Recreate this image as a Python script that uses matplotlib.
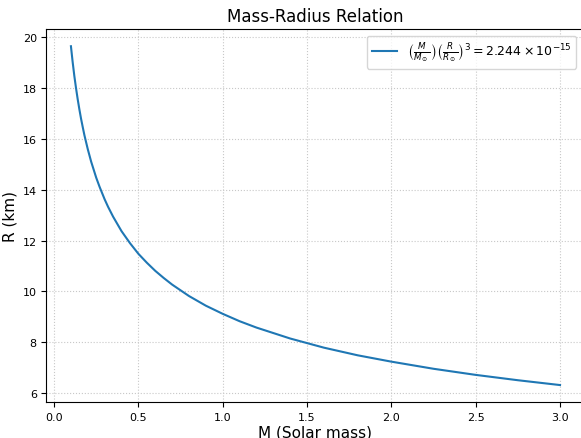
import matplotlib.pyplot as plt

# Masa (masas solares) y radio (km)
masa = [0.10, 0.11, 0.12, 0.13, 0.14, 0.15, 0.16, 0.17, 0.18, 0.20, 0.22,
        0.25, 0.27, 0.30, 0.32, 0.35, 0.40, 0.45, 0.50, 0.55, 0.60, 0.65,
        0.70, 0.80, 0.90, 1.00, 1.10, 1.20, 1.40, 1.60, 1.80, 2.00, 2.25,
        2.50, 2.75, 3.00]
radio = [19.64, 19.03, 18.48, 18.00, 17.56, 17.16, 16.79, 16.46, 16.14, 15.59, 15.10,
         14.47, 14.11, 13.62, 13.33, 12.94, 12.37, 11.90, 11.48, 11.13, 10.81, 10.53,
         10.27, 9.82, 9.44, 9.12, 8.83, 8.58, 8.15, 7.79, 7.49, 7.24, 6.96,
         6.72, 6.51, 6.32]

etiqueta = r'$\left(\frac{M}{M_\odot}\right)\left(\frac{R}{R_\odot}\right)^3 = 2.244 \times 10^{-15}$'

fig = plt.figure(figsize=(5.81, 4.39), dpi=100)
ax = fig.add_axes([0.080, 0.082, 0.926, 0.849])

ax.plot(masa, radio, color='tab:blue', linewidth=1.5, label=etiqueta)

ax.set_title('Mass-Radius Relation', fontsize=12)
ax.set_xlabel('M (Solar mass)', fontsize=11, labelpad=2)
ax.set_ylabel('R (km)', fontsize=11)
ax.tick_params(labelsize=8)
ax.set_xticks([0.0, 0.5, 1.0, 1.5, 2.0, 2.5, 3.0])
ax.set_yticks([6, 8, 10, 12, 14, 16, 18, 20])
ax.spines['right'].set_visible(False)
ax.grid(True, linestyle=':', color='#c8c8c8', linewidth=0.8)
ax.legend(loc='upper right', bbox_to_anchor=(0.9965, 1.0), fontsize=9)

plt.savefig('out.png', dpi=100)
